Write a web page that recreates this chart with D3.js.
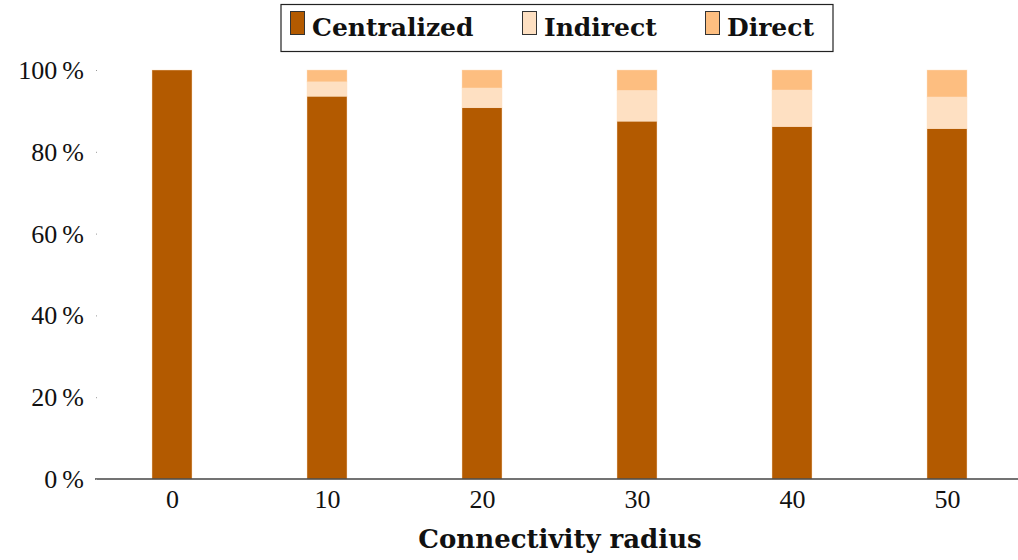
<!DOCTYPE html>
<html>
<head>
<meta charset="utf-8">
<script src="https://cdn.jsdelivr.net/npm/d3@7"></script>
<style>
  html, body { margin: 0; padding: 0; background: #fff; }
  svg { display: block; }
</style>
</head>
<body>
<svg id="chart" width="1018" height="560"></svg>
<script>
// ---- data ----
const radii = [0, 10, 20, 30, 40, 50];
const seriesNames = ["Centralized", "Indirect", "Direct"];
const centralized = [100, 93.6, 90.8, 87.5, 86.2, 85.7];
const indirect    = [0,   3.5,  4.8,  7.5,  8.9,  7.7];
const direct      = [0,   2.9,  4.4,  5.0,  4.9,  6.6];
const yTicks = [0, 20, 40, 60, 80, 100];
const colors = ["#b35a00", "#fee0c2", "#fdbe80"];

// ---- layout ----
const svg = d3.select("#chart");
const plot = { left: 95, right: 1018, top: 70, bottom: 479 };
const barW = 40;

const x = d3.scaleLinear().domain([0, 50]).range([172, 947]);
const y = d3.scaleLinear().domain([0, 100]).range([plot.bottom, plot.top]);

const rows = radii.map((r, i) => ({ r, Centralized: centralized[i], Indirect: indirect[i], Direct: direct[i] }));
const stack = d3.stack().keys(seriesNames)(rows);
const color = d3.scaleOrdinal().domain(seriesNames).range(colors);

const serif = "Liberation Serif, Times New Roman, serif";
const boldSerif = "DejaVu Serif, serif";

// bars
svg.append("g").selectAll("g").data(stack).join("g")
  .attr("fill", d => color(d.key))
  .selectAll("rect").data(d => d.filter(p => p[1] - p[0] > 0)).join("rect")
  .attr("x", d => x(d.data.r) - barW / 2)
  .attr("width", barW)
  .attr("y", d => y(d[1]))
  .attr("height", d => y(d[0]) - y(d[1]))
  .attr("stroke", "rgba(255,225,195,0.55)")
  .attr("stroke-width", 0.8);

// x axis
const xAxis = d3.axisBottom(x).tickValues(radii).tickSize(0).tickPadding(11).tickFormat(d3.format("d"));
const gx = svg.append("g").attr("transform", `translate(0,${plot.bottom})`).call(xAxis);
gx.select(".domain").remove();
gx.selectAll("text").attr("font-family", serif).attr("font-size", 26).attr("fill", "#111");
svg.append("line")
  .attr("x1", plot.left).attr("x2", plot.right)
  .attr("y1", plot.bottom).attr("y2", plot.bottom)
  .attr("stroke", "#444").attr("stroke-width", 1.3);

// y axis
const yAxis = d3.axisLeft(y).tickValues(yTicks).tickSize(1).tickPadding(12)
  .tickFormat(d => d + "\u2009%");
const gy = svg.append("g").attr("transform", `translate(${plot.left + 2},0)`).call(yAxis);
gy.select(".domain").remove();
gy.selectAll(".tick line").attr("stroke", "#999");
gy.selectAll("text").attr("font-family", serif).attr("font-size", 26).attr("fill", "#111").attr("dy", "0.33em");

// x axis title
svg.append("text")
  .attr("x", 560).attr("y", 548)
  .attr("text-anchor", "middle")
  .attr("font-family", boldSerif).attr("font-weight", "bold").attr("font-size", 26)
  .attr("fill", "#111")
  .text("Connectivity radius");

// legend
const legend = svg.append("g");
legend.append("rect")
  .attr("x", 281).attr("y", 4.5).attr("width", 552).attr("height", 47)
  .attr("fill", "#fff").attr("stroke", "#222").attr("stroke-width", 1.2);
const legX = [290, 522, 705];
seriesNames.forEach((name, i) => {
  const g = legend.append("g").attr("transform", `translate(${legX[i]},0)`);
  g.append("rect").attr("x", 0.5).attr("y", 11.5).attr("width", 14).attr("height", 23)
    .attr("fill", colors[i]).attr("stroke", "#333").attr("stroke-width", 1);
  g.append("text").attr("x", 22).attr("y", 36)
    .attr("font-family", boldSerif).attr("font-weight", "bold").attr("font-size", 25)
    .attr("fill", "#111").text(name);
});
</script>
</body>
</html>
